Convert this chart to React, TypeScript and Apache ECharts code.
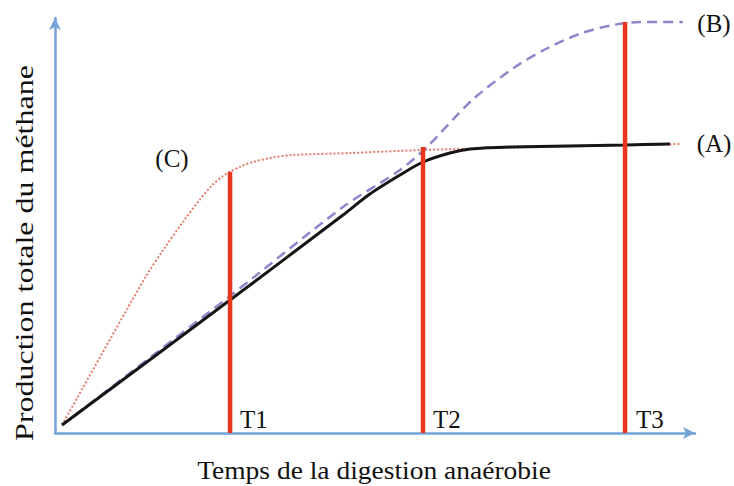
import React, { useEffect, useRef } from "react";
import * as echarts from "echarts";

// Curve (A): black solid
const curveA: number[][] = [
  [0, 0], [26.25, 31.25], [43.9, 52.5], [48.1, 57.75], [52.8, 62.5], [56.4, 65.75],
  [60.6, 68], [63.75, 69], [70, 69.5], [88, 70], [95, 70.25],
];
// Curve (B): purple dashed
const curveB: number[][] = [
  [0, 0], [26.25, 32.25], [43.9, 54.5], [52.8, 63.75], [57.0, 69.5], [64.1, 81.25],
  [70.8, 89.5], [75.9, 94.25], [81.25, 98], [86.1, 100], [90.3, 100.75], [97, 100.75],
];
// Curve (C): red dotted
const curveC: number[][] = [
  [0, 0], [13, 36.9], [16, 44.2], [19, 51], [21.5, 56.3], [23.5, 60], [25, 62.1],
  [26.25, 63.3], [28, 64.7], [30, 65.8], [33, 66.9], [36, 67.5], [45, 68],
  [56.4, 68.75], [68.4, 69.25], [96.6, 70.25],
];
// Vertical markers T1, T2, T3: [time, height]
const markerNames = ["T1", "T2", "T3"];
const markerTimes = [26.25, 56.4, 87.97];
const markerTops = [63.3, 69.5, 100.75];
const curveLabels = ["(A)", "(B)", "(C)"];

const SERIF = "'Times New Roman', 'Liberation Serif', Times, serif";

export default function App() {
  const ref = useRef<HTMLDivElement>(null);
  useEffect(() => {
    if (!ref.current) return;
    const chart = echarts.init(ref.current, null, { renderer: "svg" });
    const axisColor = "#72a2d8";
    const txt = (text: string, x: number, y: number, align: string, extra: any = {}) => ({
      type: "text",
      x,
      y,
      ...extra,
      style: {
        text,
        fontFamily: SERIF,
        fontSize: 25,
        fill: "#111",
        align,
        verticalAlign: "middle",
      },
    });
    const markerSeries = markerTimes.map((t, i) => ({
      type: "line",
      name: markerNames[i],
      data: [[t, -2], [t, markerTops[i]]],
      showSymbol: false,
      lineStyle: { color: "#e8381c", width: 4.5 },
      z: 5,
    }));
    chart.setOption({
      animation: false,
      backgroundColor: "#ffffff",
      grid: { left: 55, right: 39, top: 18, bottom: 53 },
      xAxis: {
        type: "value",
        min: -1.1,
        max: 98.9,
        axisLine: {
          show: true,
          onZero: false,
          symbol: ["none", "arrow"],
          symbolSize: [9, 12],
          lineStyle: { color: axisColor, width: 2.5 },
        },
        axisTick: { show: false },
        axisLabel: { show: false },
        splitLine: { show: false },
      },
      yAxis: {
        type: "value",
        min: -2,
        max: 101.75,
        axisLine: {
          show: true,
          onZero: false,
          symbol: ["none", "arrow"],
          symbolSize: [9, 12],
          lineStyle: { color: axisColor, width: 2.5 },
        },
        axisTick: { show: false },
        axisLabel: { show: false },
        splitLine: { show: false },
      },
      series: [
        {
          type: "line",
          name: "(C)",
          data: curveC,
          showSymbol: false,
          smooth: 0.3,
          lineStyle: { color: "#e47a6a", width: 2, type: [2, 2] },
          z: 2,
        },
        {
          type: "line",
          name: "(B)",
          data: curveB,
          showSymbol: false,
          smooth: 0.3,
          lineStyle: { color: "#8f86cc", width: 2.5, type: [10, 6] },
          z: 3,
        },
        {
          type: "line",
          name: "(A)",
          data: curveA,
          showSymbol: false,
          smooth: 0.3,
          lineStyle: { color: "#161616", width: 3 },
          z: 4,
        },
        ...markerSeries,
      ],
      graphic: [
        txt("Production totale du méthane", 24, 253, "center", { rotation: Math.PI / 2, scaleX: 1.28 }),
        txt("Temps de la digestion anaérobie", 374, 471, "center", { scaleX: 1.1 }),
        ...markerNames.map((n, i) => txt(n, [240, 433, 636][i], 419, "left")),
        txt(curveLabels[2], 172, 158, "center"),
        txt(curveLabels[1], 714, 23, "center"),
        txt(curveLabels[0], 714, 143, "center"),
      ],
    });
    return () => chart.dispose();
  }, []);
  return <div ref={ref} style={{ width: 734, height: 486, position: "absolute", left: 0, top: 0 }} />;
}
